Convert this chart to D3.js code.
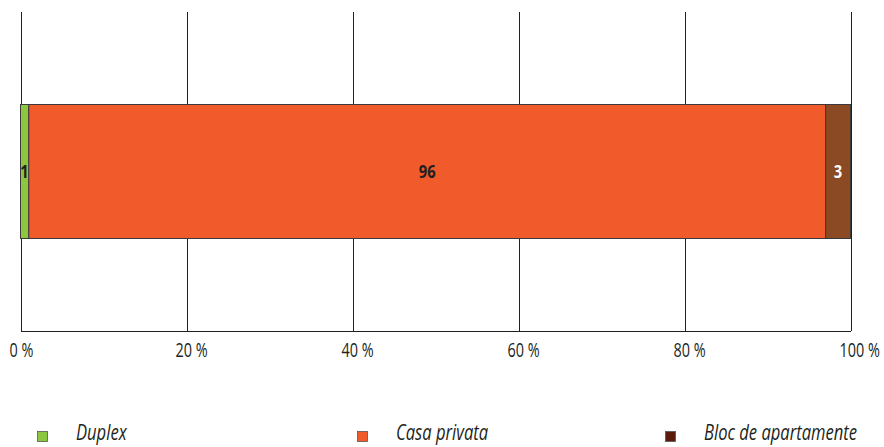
<!DOCTYPE html>
<html><head><meta charset="utf-8">
<script src="https://cdn.jsdelivr.net/npm/d3@7"></script>
<style>body{margin:0;background:#fff}svg{display:block}</style>
</head><body>
<svg id="c" width="884" height="447"></svg>
<script>
const categories = ["Duplex", "Casa privata", "Bloc de apartamente"];
const values = [1, 96, 3];
const barColors = ["#8dc63f", "#f15a2b", "#8b4a24"];
const legendColors = ["#8dc63f", "#f15a2b", "#5a1a0c"];
const labelColors = ["#231f20", "#231f20", "#ffffff"];
const ticks = [0, 20, 40, 60, 80, 100];
const tickLabels = ["0 %", "20 %", "40 %", "60 %", "80 %", "100 %"];

const font = "'Open Sans','DejaVu Sans',sans-serif";
const sx = 0.74;
const svg = d3.select("#c");
const x = d3.scaleLinear().domain([0, 100]).range([20.5, 850.5]);
const plotTop = 12, plotBottom = 331;

// gridlines
svg.append("g").selectAll("line").data(ticks).join("line")
  .attr("x1", d => Math.round(x(d)) + 0.5).attr("x2", d => Math.round(x(d)) + 0.5)
  .attr("y1", plotTop).attr("y2", plotBottom)
  .attr("stroke", "#231f20").attr("stroke-width", 1);

// axis
const axis = d3.axisBottom(x).tickValues(ticks).tickFormat((d, i) => tickLabels[i]).tickSize(0);
const ag = svg.append("g").attr("transform", `translate(0,${plotBottom})`).call(axis);
ag.select(".domain").attr("stroke", "#231f20").attr("stroke-width", 1.2);
ag.selectAll(".tick text")
  .attr("font-family", font).attr("font-size", 19.5).attr("fill", "#231f20")
  .attr("text-anchor", "start").attr("dy", 0).attr("y", 0).attr("x", 0)
  .attr("transform", "translate(-11.5,25.5) scale(" + sx + ",1)");

// stacked bar
let acc = 0;
const segs = values.map((v, i) => { const s = {i, v, x0: acc, x1: acc + v}; acc += v; return s; });
const by = 104.5, bh = 134;
svg.append("g").selectAll("rect").data(segs).join("rect")
  .attr("x", d => x(d.x0)).attr("width", d => x(d.x1) - x(d.x0))
  .attr("y", by).attr("height", bh)
  .attr("fill", d => barColors[d.i])
  .attr("stroke", "#3a3a3a").attr("stroke-width", 1);

svg.append("g").selectAll("text").data(segs).join("text")
  .attr("transform", d => {
    const cx = d.i === 0 ? x(d.x0) + 4 : (x(d.x0) + x(d.x1)) / 2;
    return `translate(${cx},178) scale(0.82,1)`;
  })
  .attr("text-anchor", "middle")
  .attr("font-family", font).attr("font-weight", "bold").attr("font-size", 18)
  .attr("fill", d => labelColors[d.i])
  .text(d => d.v);

// legend
const lx = [37, 357, 665];
const lg = svg.append("g").selectAll("g").data(categories).join("g")
  .attr("transform", (d, i) => `translate(${lx[i]},0)`);
lg.append("rect").attr("x", 0.5).attr("y", 431.5).attr("width", 10).attr("height", 10)
  .attr("fill", (d, i) => legendColors[i]).attr("stroke", "#555").attr("stroke-width", 0.8);
lg.append("text").attr("transform", `translate(39,440) scale(0.79,1)`)
  .attr("font-family", font).attr("font-style", "italic").attr("font-size", 21)
  .attr("fill", "#231f20").text(d => d);
</script>
</body></html>
